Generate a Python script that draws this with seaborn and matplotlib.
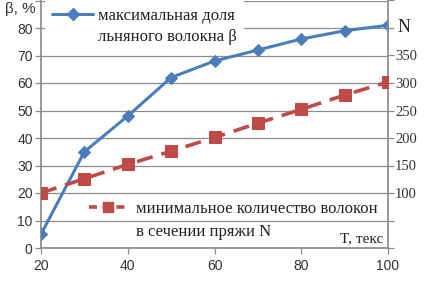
import matplotlib
matplotlib.use("Agg")
import matplotlib.pyplot as plt
import seaborn as sns
import pandas as pd
from matplotlib.lines import Line2D

T = [20, 30, 40, 50, 60, 70, 80, 90, 100]
beta = [5, 35, 48, 62, 68, 72, 76, 79, 81]
N = [100, 126, 152, 176, 201, 227, 252, 278, 302]

left_ticks = [0, 10, 20, 30, 40, 50, 60, 70, 80]
right_ticks = [100, 150, 200, 250, 300, 350]
x_ticks = [20, 40, 60, 80, 100]

blue = "#4A7EBB"
red = "#BE4B48"
grid_c = "#8C8C8C"

sns.set_theme(style="white")
plt.rcParams["font.family"] = ["Liberation Sans", "DejaVu Sans"]

df = pd.DataFrame({"T": T, "beta": beta, "N": N})

fig = plt.figure(figsize=(4.33, 2.83), dpi=100)
ax = fig.add_axes([41/433, 1-248/283, (388-41)/433, 247.5/283])
ax2 = ax.twinx()

sns.lineplot(data=df, x="T", y="beta", ax=ax, color=blue, lw=2.2,
             marker="D", markersize=6, markeredgecolor=blue, zorder=5)
sns.lineplot(data=df, x="T", y="N", ax=ax2, color=red, lw=2.6,
             marker="s", markersize=8, markeredgecolor=red, zorder=5)
ax2.lines[0].set_dashes([4.5, 2.5])

ax.set_xlim(20, 100)
ax.set_ylim(0, 90)
ax2.set_ylim(0, 450)

ax.set_yticks(list(range(0, 91, 10)))
ax.set_yticklabels([str(v) for v in left_ticks] + [""])
ax.set_xticks(x_ticks)
ax2.set_yticks(list(range(0, 451, 50)))
ax2.set_yticklabels(["" if v not in right_ticks else str(v) for v in range(0, 451, 50)],
                    family="Liberation Serif")

for a in (ax, ax2):
    a.set_xlabel("")
    a.set_ylabel("")
    for s in a.spines.values():
        s.set_visible(False)

ax.yaxis.grid(True, color=grid_c, lw=0.9)
ax.set_axisbelow(True)
ax.spines["left"].set_visible(True)
ax.spines["left"].set_color(grid_c)
ax.spines["bottom"].set_visible(True)
ax.spines["bottom"].set_color(grid_c)
ax2.spines["right"].set_visible(True)
ax2.spines["right"].set_color(grid_c)

ax.tick_params(axis="both", which="both", direction="out", length=4, width=0.9,
               color=grid_c, labelsize=10, labelcolor="#333333", pad=2,
               left=True, bottom=True)
ax.tick_params(axis="x", pad=4)
ax2.tick_params(axis="y", direction="out", length=4, width=0.9, color=grid_c,
                labelsize=10.5, labelcolor="#333333", pad=1, right=True)

fig.text(5/433, 1-9/283, "β, %", fontsize=11, color="#333333", va="center", ha="left")
fig.text(398/433, 1-27/283, "N", fontsize=13, color="#222222", va="center", ha="left",
         family="Liberation Serif")
fig.text(383/433, 1-239/283, "T, текс", fontsize=11, color="#222222", va="center",
         ha="right", family="Liberation Serif")

serif = {"family": "Liberation Serif", "size": 12}
h1 = Line2D([], [], color=blue, lw=2.2, marker="D", markersize=6)
h0 = Line2D([], [], color="none")
leg1 = ax.legend([h1, h0], ["максимальная доля", "льняного волокна β"],
                 loc="upper left", bbox_to_anchor=(0.012, 0.997), frameon=True,
                 facecolor="white", edgecolor="none", framealpha=1, fancybox=False,
                 prop=serif, handlelength=2.5, handletextpad=0.3, labelspacing=0.33,
                 borderaxespad=0, numpoints=1)
for t in leg1.get_texts():
    t.set_color("#222222")
ax.add_artist(leg1)

h2 = Line2D([], [], color=red, lw=2.6, marker="s", markersize=7, dashes=[2.2, 1.6])
leg2 = ax2.legend([h2, h0], ["минимальное количество волокон", "в сечении пряжи N"],
                  loc="upper left", bbox_to_anchor=(0.12, 0.217), frameon=False,
                  prop=serif, handlelength=2.2, handletextpad=0.6, labelspacing=0.45,
                  borderaxespad=0, numpoints=1)
for t in leg2.get_texts():
    t.set_color("#222222")

fig.savefig("out.png", dpi=100)
